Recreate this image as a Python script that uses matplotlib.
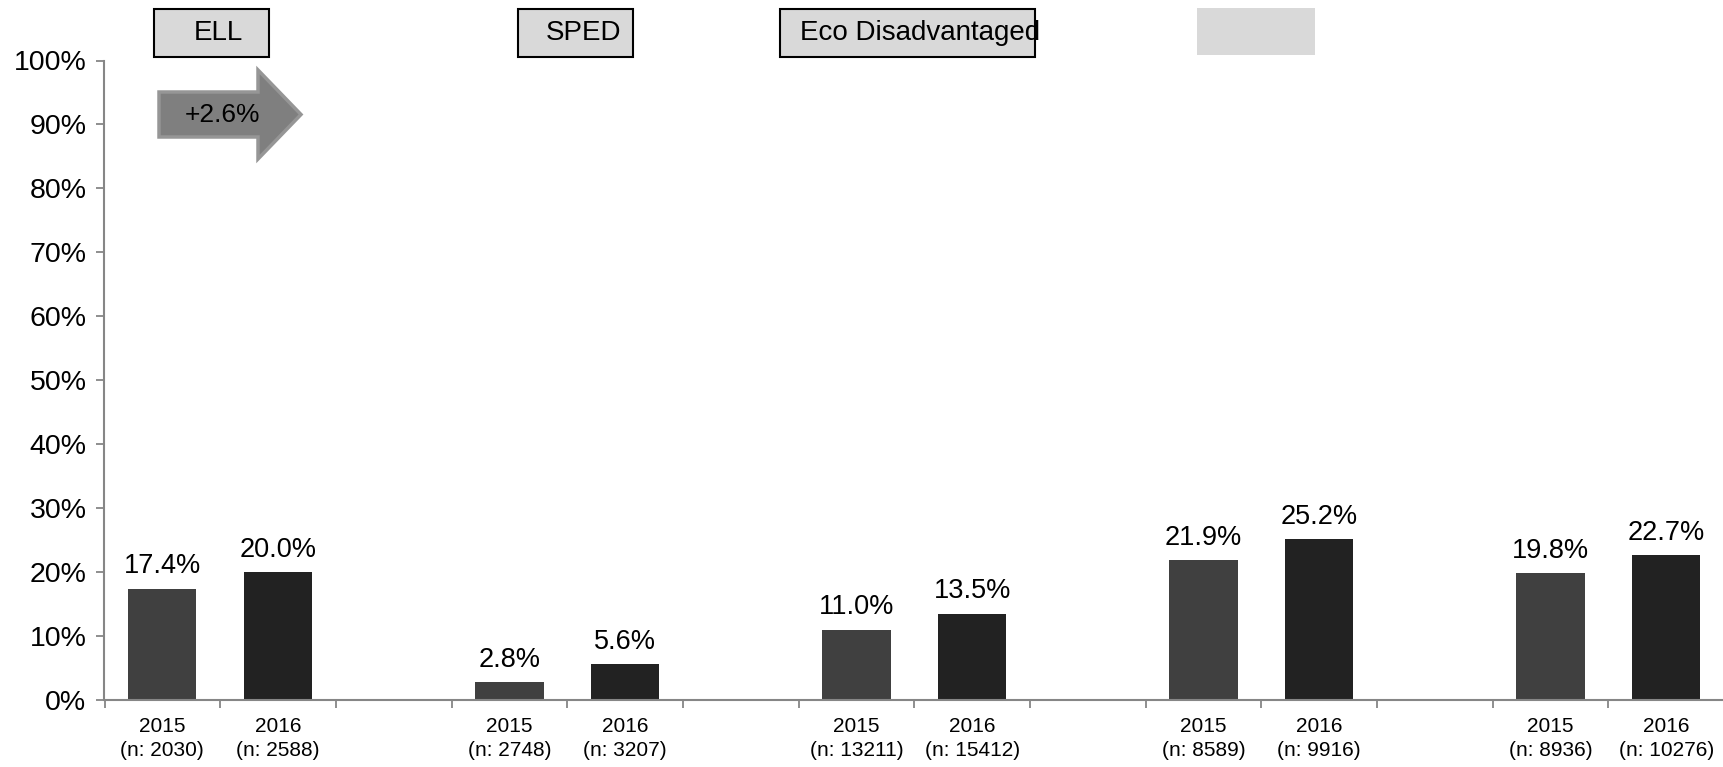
import matplotlib
matplotlib.use('Agg')
import matplotlib.pyplot as plt
from matplotlib.patches import Rectangle, FancyArrow
from matplotlib.ticker import PercentFormatter
import numpy as np

plt.rcParams['font.family'] = ['Liberation Sans', 'DejaVu Sans']

groups = ['ELL', 'SPED', 'Eco Disadvantaged', '', '']
years = ['2015', '2016']
rate_2015 = [17.4, 2.8, 11.0, 21.9, 19.8]
rate_2016 = [20.0, 5.6, 13.5, 25.2, 22.7]
n_2015 = [2030, 2748, 13211, 8589, 8936]
n_2016 = [2588, 3207, 15412, 9916, 10276]
change_label = '+2.6%'

W, H = 1724, 767
fig = plt.figure(figsize=(W / 100, H / 100), dpi=100)
ax = fig.add_axes([104.5 / W, 67 / H, (W - 104.5) / W, 639.5 / H])

# each group takes 3 slots: 2015, 2016, empty gap (no gap after the last one)
x15 = np.arange(len(groups)) * 3
x16 = x15 + 1
bw = 0.59
b1 = ax.bar(x15, np.array(rate_2015) / 100, bw, color='#404040')
b2 = ax.bar(x16, np.array(rate_2016) / 100, bw, color='#222222')

for bars, vals in [(b1, rate_2015), (b2, rate_2016)]:
    for b, v in zip(bars, vals):
        ax.annotate(f'{v:.1f}%', (b.get_x() + b.get_width() / 2, b.get_height()),
                    xytext=(0, 11), textcoords='offset points',
                    ha='center', va='baseline', fontsize=19.5)

ax.set_xlim(-0.5, x16[-1] + 0.5)
ax.set_ylim(0, 1)
ax.yaxis.set_major_formatter(PercentFormatter(1.0, decimals=0))
ax.set_yticks(np.arange(0, 1.01, 0.1))

pos = np.concatenate([x15, x16])
labels = [f'{years[0]}\n(n: {n})' for n in n_2015] + [f'{years[1]}\n(n: {n})' for n in n_2016]
ax.set_xticks(pos)
ax.set_xticklabels(labels, fontsize=15, linespacing=1.35)
ax.set_xticks(np.arange(-0.5, x16[-1] + 1, 1), minor=True)
ax.tick_params(axis='x', which='major', length=0, pad=12)
ax.tick_params(axis='x', which='minor', length=6, width=1.3, color='#868686')
ax.tick_params(axis='y', length=6, width=1.3, color='#868686', labelsize=20.5, pad=7)

for s in ['top', 'right']:
    ax.spines[s].set_visible(False)
for s in ['left', 'bottom']:
    ax.spines[s].set_color('#868686')
    ax.spines[s].set_linewidth(1.5)

# group header boxes (pixel layout, top-left origin)
headers = [(groups[0], 154, 269, 218), (groups[1], 518, 633, 584), (groups[2], 780, 1035, 920)]
for name, x0, x1, tx in headers:
    fig.patches.append(Rectangle((x0 / W, (H - 57) / H), (x1 - x0) / W, 48 / H,
                                 transform=fig.transFigure, fc='#d9d9d9', ec='black', lw=1.5))
    fig.text(tx / W, (H - 33) / H, name, ha='center', va='center', fontsize=20)
fig.patches.append(Rectangle((1197 / W, (H - 55) / H), 118 / W, 47 / H,
                             transform=fig.transFigure, fc='#d9d9d9', ec='none'))

# change arrow
fig.patches.append(FancyArrow(159 / W, (H - 114.5) / H, 142 / W, 0, width=45 / H,
                              head_width=89 / H, head_length=43 / W, length_includes_head=True,
                              transform=fig.transFigure, fc='#7f7f7f', ec='#969696', lw=2.5))
fig.text(223 / W, (H - 115) / H, change_label, ha='center', va='center', fontsize=19)

fig.savefig('out.png', dpi=100)
